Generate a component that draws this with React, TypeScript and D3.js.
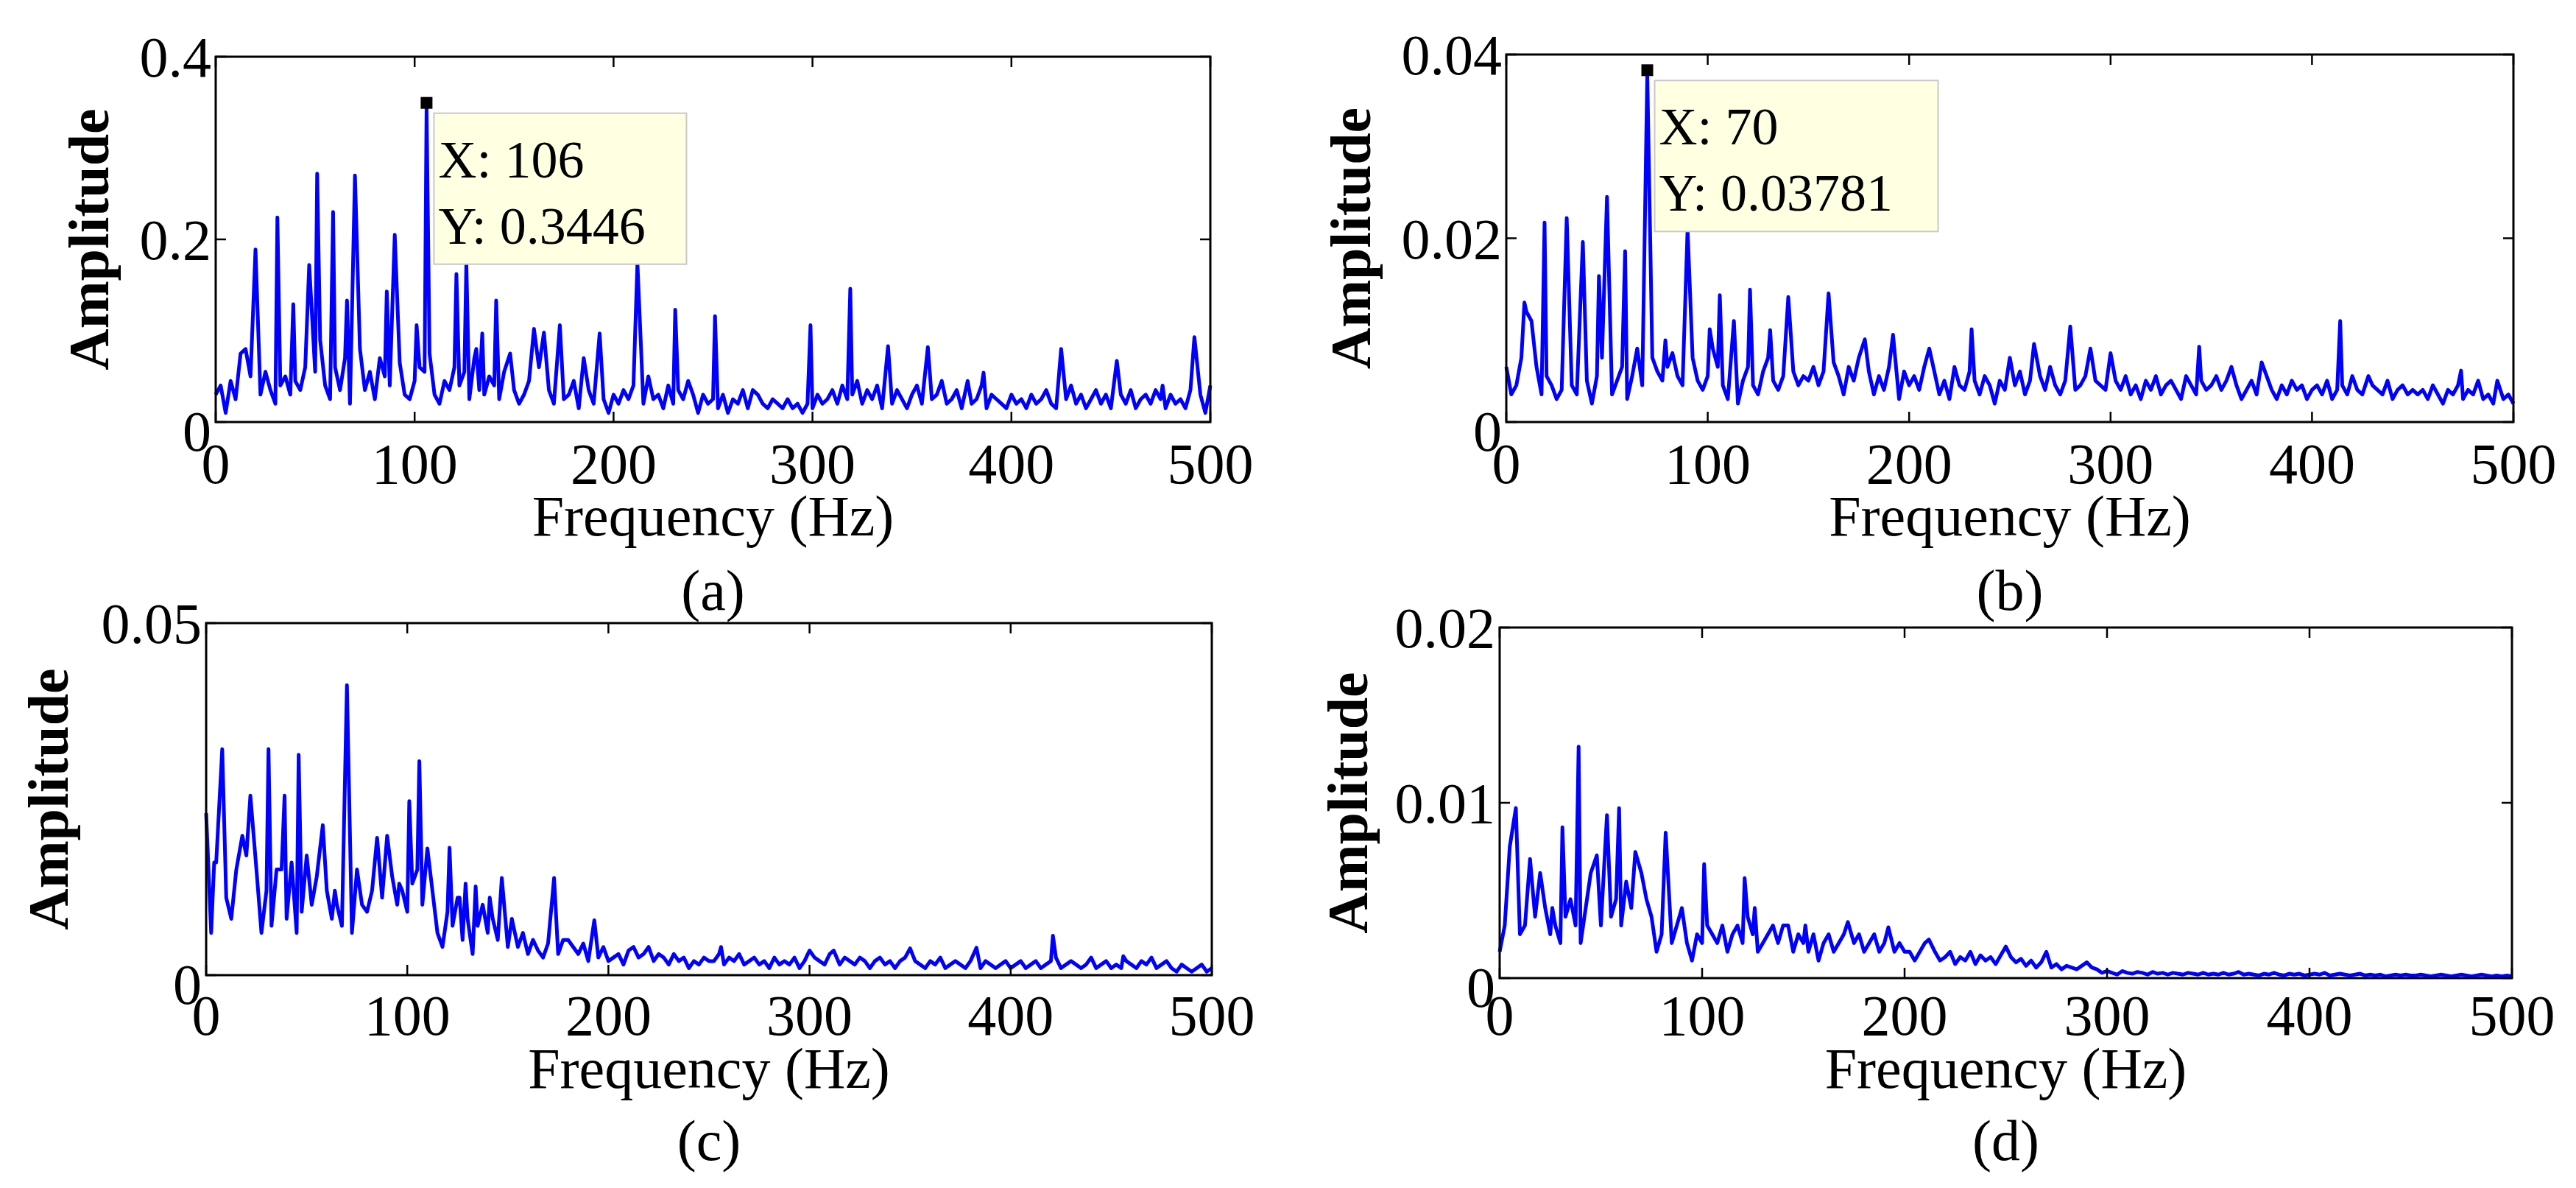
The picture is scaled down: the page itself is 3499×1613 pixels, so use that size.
import React from 'react';
import * as d3 from 'd3';

// baseline spectra sampled every 2.5 Hz from 0 to 500 Hz, plus sharp peaks [Hz, amplitude]
const freqStep = 2.5;
const xTicks = [0, 100, 200, 300, 400, 500];

// panel (a), units of 1e-3
const baseA = [
  30,40,10,45,25,75,80,50,60,30,55,35,20,40,50,30,45,35,60,40,55,
  90,40,25,60,35,70,20,45,80,35,55,25,70,50,40,30,65,30,25,45,
  60,55,75,30,20,45,35,60,40,55,25,70,35,30,50,40,25,55,45,35,
  20,30,45,25,60,40,35,20,50,25,30,45,15,40,35,20,55,25,10,30,
  20,35,25,40,30,20,50,25,30,15,40,20,35,25,45,30,10,30,20,25,
  15,30,10,25,20,35,15,25,30,20,15,25,20,15,25,15,20,10,20,15,
  30,20,25,35,20,40,25,30,45,20,35,25,40,15,30,20,35,25,15,30,
  40,20,35,25,30,45,20,25,35,15,30,20,25,40,15,30,25,20,15,30,
  20,25,15,30,20,25,35,20,15,30,25,40,20,30,15,25,35,20,30,15,
  25,30,20,35,15,25,30,20,35,25,15,30,20,25,15,35,20,30,10,40,
];
const peaksA: [number, number][] = [
  [20,0.189],[31,0.224],[39,0.129],[47,0.172],[51,0.272],[59,0.230],[66,0.133],[70,0.270],
  [86,0.143],[90,0.205],[101,0.106],[106,0.3446],[121,0.162],[126,0.174],[131,0.08],[134,0.097],
  [141,0.133],[148,0.075],[160,0.102],[165,0.098],[173,0.106],[185,0.07],[193,0.097],[212,0.174],
  [231,0.123],[251,0.116],[270,0.035],[299,0.106],[319,0.146],[338,0.083],[358,0.082],[378,0.045],
  [386,0.054],[425,0.080],[453,0.067],[476,0.04],[492,0.093],
];

// panel (b), units of 1e-4
const baseB = [
  60,30,40,70,120,110,60,30,50,40,25,35,55,40,30,60,45,20,50,70,40,
  30,45,60,25,50,80,40,65,70,55,45,60,75,50,40,60,70,45,35,50,
  80,60,40,25,35,20,45,60,40,30,55,70,45,35,50,65,55,40,50,45,
  60,40,55,35,65,50,30,60,45,70,40,55,30,50,35,60,45,25,55,40,
  50,35,60,40,55,30,45,25,60,40,35,55,45,30,50,40,20,45,35,50,
  40,55,30,45,25,50,35,60,40,30,45,55,35,40,50,30,45,40,35,50,
  45,35,50,30,40,25,45,35,50,30,40,45,35,25,50,40,30,45,35,40,
  50,35,45,30,40,25,35,45,30,40,50,35,25,40,30,45,35,40,25,35,
  40,30,45,25,35,40,30,50,35,30,45,40,35,30,45,25,35,40,30,35,
  30,35,25,40,30,20,35,30,40,25,35,30,45,25,30,20,35,25,30,20,
];
const peaksB: [number, number][] = [
  [9,0.013],[19,0.0217],[30,0.0222],[38,0.0196],[46,0.0159],[50,0.0245],[59,0.0186],[70,0.03781],
  [79,0.0089],[90,0.021],[101,0.0101],[106,0.0138],[113,0.011],[121,0.0144],[131,0.01],[140,0.0136],
  [160,0.014],[178,0.009],[192,0.0095],[210,0.008],[231,0.0101],[250,0.007],[262,0.0085],[280,0.0104],
  [290,0.008],[300,0.0075],[344,0.0082],[360,0.006],[375,0.0065],[414,0.011],[428,0.005],[474,0.0056],[492,0.0045],
];

// panel (c), units of 1e-4
const baseC = [
  230,60,160,140,110,80,150,100,170,90,150,60,120,70,110,150,80,160,60,90,170,
  100,140,90,120,80,100,70,110,60,150,100,80,120,90,110,70,140,100,120,90,
  130,150,100,80,120,60,40,90,70,110,50,80,30,70,100,60,80,50,90,40,
  70,40,60,30,50,35,25,45,60,30,50,20,40,30,45,20,35,25,40,20,
  25,30,15,35,40,25,30,45,20,30,25,15,30,20,25,10,20,15,25,20,
  20,30,15,25,20,30,15,20,25,15,20,10,25,15,20,15,25,10,20,15,
  25,20,15,30,20,15,25,20,15,25,20,10,20,25,15,20,10,20,25,15,
  20,15,10,20,15,25,10,15,20,15,10,20,15,10,20,15,10,15,20,10,
  15,20,10,15,20,10,15,20,25,10,15,20,15,10,15,20,10,15,20,10,
  15,10,20,15,10,20,15,25,10,15,20,10,5,15,10,5,10,15,5,10,
];
const peaksC: [number, number][] = [
  [4,0.016],[8,0.0321],[18,0.0198],[22,0.0255],[31,0.0321],[35,0.015],[39,0.0255],[46,0.0313],
  [50,0.017],[58,0.0213],[64,0.012],[70,0.0412],[80,0.009],[85,0.0195],[90,0.0198],[96,0.013],
  [101,0.0247],[106,0.0304],[110,0.018],[121,0.0181],[126,0.011],[129,0.013],[134,0.0126],[141,0.011],
  [147,0.0138],[152,0.008],[173,0.0138],[180,0.005],[193,0.0078],[220,0.004],[256,0.004],[300,0.0035],
  [312,0.0035],[350,0.0038],[383,0.0039],[421,0.0056],[440,0.0025],[456,0.0027],
];

// panel (d), units of 1e-5
const baseD = [
  150,300,500,400,250,300,150,350,200,400,250,300,200,350,450,300,200,400,350,450,300,
  500,350,450,300,550,400,300,250,450,350,150,250,100,200,300,100,200,100,250,200,
  300,250,200,300,150,250,300,200,350,250,150,200,250,300,200,250,300,150,250,200,
  150,250,100,200,250,150,200,250,300,200,250,150,200,250,150,200,100,150,200,150,
  150,100,150,200,100,150,100,120,150,80,120,100,150,80,130,100,120,80,130,100,
  120,90,110,70,100,60,90,80,60,80,50,70,60,50,70,40,60,50,30,40,
  30,20,40,30,25,35,30,20,35,25,30,20,30,25,20,30,25,20,30,20,
  25,20,30,20,25,35,20,25,20,15,25,20,30,20,15,25,20,25,15,20,
  25,20,30,15,20,25,20,15,20,25,15,20,15,20,10,15,20,15,20,15,
  15,20,15,10,15,20,15,10,15,20,15,10,15,20,15,10,15,10,15,10,
];
const peaksD: [number, number][] = [
  [5,0.0075],[8,0.0097],[15,0.0068],[20,0.006],[26,0.004],[31,0.0086],[39,0.0132],[45,0.006],
  [48,0.007],[53,0.0093],[59,0.0097],[67,0.0072],[70,0.006],[82,0.0083],[90,0.004],[101,0.0065],
  [110,0.003],[121,0.0057],[126,0.004],[140,0.003],[151,0.003],[172,0.0032],[192,0.0029],[212,0.0022],
  [250,0.0018],[270,0.0015],[290,0.0009],
];

type Tip = { x: number; y: number; label: string[]; w: number };

interface PanelProps {
  base: number[]; unit: number; peaks: [number, number][];
  yMax: number; yTicks: number[]; yFmt: string[];
  box: { x0: number; x1: number; y0: number; y1: number };
  ylabX: number; xlabY: number; tickY: number; capY: number; cap: string;
  tip?: Tip;
}

const font = '"Liberation Serif", "Times New Roman", serif';
const fs = 78;

function Panel(p: PanelProps) {
  const x = d3.scaleLinear().domain([0, 500]).range([p.box.x0, p.box.x1]);
  const y = d3.scaleLinear().domain([0, p.yMax]).range([p.box.y1, p.box.y0]);
  const pts: [number, number][] = p.base
    .map((v, i) => [i * freqStep, v * p.unit] as [number, number])
    .filter(([f]) => !p.peaks.some(([pf]) => Math.abs(pf - f) < 0.9));
  const all = pts.concat(p.peaks).sort((a, b) => a[0] - b[0]);
  const line = d3.line<[number, number]>().x(d => x(d[0])).y(d => y(d[1]));
  const { x0, x1, y0, y1 } = p.box;
  const tl = 14;
  const cx = (x0 + x1) / 2;
  return (
    <g>
      <path d={line(all) || ''} fill="none" stroke="#0000ff" strokeWidth={5} strokeLinejoin="round" />
      <rect x={x0} y={y0} width={x1 - x0} height={y1 - y0} fill="none" stroke="#000" strokeWidth={3} />
      {xTicks.map(t => (
        <g key={'x' + t}>
          <line x1={x(t)} x2={x(t)} y1={y1} y2={y1 - tl} stroke="#000" strokeWidth={2.5} />
          <line x1={x(t)} x2={x(t)} y1={y0} y2={y0 + tl} stroke="#000" strokeWidth={2.5} />
          <text x={x(t)} y={p.tickY} textAnchor="middle" fontSize={fs} fontFamily={font}>{t}</text>
        </g>
      ))}
      {p.yTicks.map((t, i) => (
        <g key={'y' + t}>
          <line x1={x0} x2={x0 + tl} y1={y(t)} y2={y(t)} stroke="#000" strokeWidth={2.5} />
          <line x1={x1} x2={x1 - tl} y1={y(t)} y2={y(t)} stroke="#000" strokeWidth={2.5} />
          <text x={x0 - 6} y={y(t) + (t === 0 ? 12 : 0)} dy="0.35em" textAnchor="end" fontSize={fs} fontFamily={font}>{p.yFmt[i]}</text>
        </g>
      ))}
      <text transform={`translate(${p.ylabX},${(y0 + y1) / 2}) rotate(-90)`} dy="0.35em" textAnchor="middle"
        fontSize={fs} fontWeight="bold" fontFamily={font}>Amplitude</text>
      <text x={cx} y={p.xlabY} textAnchor="middle" fontSize={fs} fontFamily={font}>Frequency (Hz)</text>
      <text x={cx} y={p.capY} textAnchor="middle" fontSize={fs} fontFamily={font}>{p.cap}</text>
      {p.tip && (
        <g>
          <rect x={x(p.tip.x) + 10} y={y(p.tip.y) + 8} width={p.tip.w} height={205}
            fill="#ffffe1" stroke="#c8c8c8" strokeWidth={2} />
          <rect x={x(p.tip.x) - 8} y={y(p.tip.y) - 14} width={16} height={16} fill="#000" />
          {p.tip.label.map((s, i) => (
            <text key={s} x={x(p.tip!.x) + 16} y={y(p.tip!.y) + 95 + i * 90} fontSize={72} fontFamily={font}>{s}</text>
          ))}
        </g>
      )}
    </g>
  );
}

export default function App() {
  return (
    <svg width={3499} height={1613} style={{ display: 'block', background: '#fff' }}>
      <Panel base={baseA} unit={1e-3} peaks={peaksA} yMax={0.4} yTicks={[0, 0.2, 0.4]} yFmt={['0', '0.2', '0.4']}
        box={{ x0: 285, x1: 1636, y0: 69, y1: 565 }} ylabX={112} xlabY={719} tickY={648} capY={820} cap="(a)"
        tip={{ x: 106, y: 0.3446, label: ['X: 106', 'Y: 0.3446'], w: 343 }} />
      <Panel base={baseB} unit={1e-4} peaks={peaksB} yMax={0.04} yTicks={[0, 0.02, 0.04]} yFmt={['0', '0.02', '0.04']}
        box={{ x0: 2038, x1: 3406, y0: 66, y1: 565 }} ylabX={1826} xlabY={719} tickY={648} capY={820} cap="(b)"
        tip={{ x: 70, y: 0.03781, label: ['X: 70', 'Y: 0.03781'], w: 385 }} />
      <Panel base={baseC} unit={1e-4} peaks={peaksC} yMax={0.05} yTicks={[0, 0.05]} yFmt={['0', '0.05']}
        box={{ x0: 272, x1: 1638, y0: 838, y1: 1316 }} ylabX={57} xlabY={1469} tickY={1397} capY={1567} cap="(c)" />
      <Panel base={baseD} unit={1e-5} peaks={peaksD} yMax={0.02} yTicks={[0, 0.01, 0.02]} yFmt={['0', '0.01', '0.02']}
        box={{ x0: 2029, x1: 3404, y0: 844, y1: 1320 }} ylabX={1822} xlabY={1469} tickY={1397} capY={1567} cap="(d)" />
    </svg>
  );
}
